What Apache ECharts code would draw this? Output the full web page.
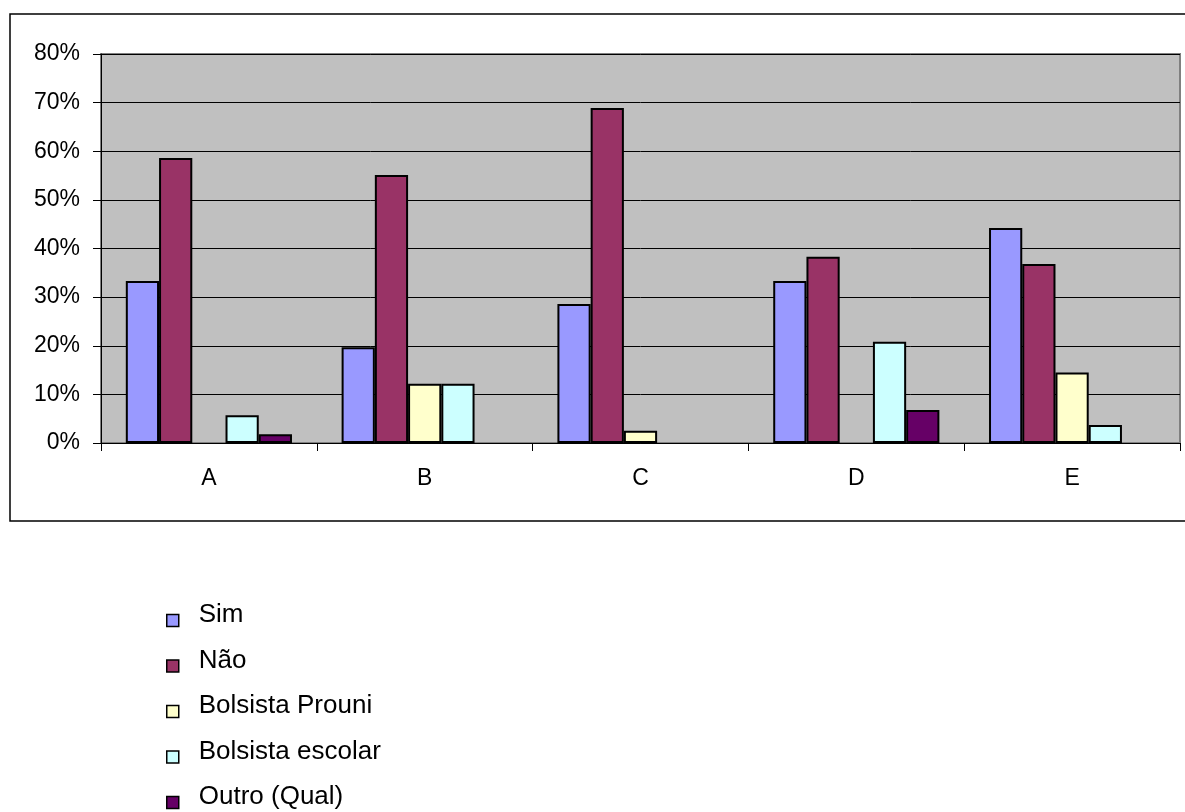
<!DOCTYPE html>
<html>
<head>
<meta charset="utf-8">
<script src="https://cdn.jsdelivr.net/npm/echarts@6/dist/echarts.min.js"></script>
<style>
  html, body { margin: 0; padding: 0; background: #fff; }
  #chart { width: 1185px; height: 812px; }
</style>
</head>
<body>
<div id="chart"></div>
<script>
// Categories and series values (percent)
const categories = ['A', 'B', 'C', 'D', 'E'];
const sim             = [33.3, 19.7, 28.6, 33.3, 44.2];
const nao             = [58.6, 55.1, 68.9, 38.3, 36.8];
const bolsistaProuni  = [0,    12.2, 2.5,  0,    14.5];
const bolsistaEscolar = [5.7,  12.2, 0,    20.8, 3.7];
const outro           = [1.8,  0,    0,    6.8,  0];
const yTicks = [0, 10, 20, 30, 40, 50, 60, 70, 80];

const seriesDefs = [
  { name: 'Sim', data: sim, color: '#9999FF' },
  { name: 'Não', data: nao, color: '#993366' },
  { name: 'Bolsista Prouni', data: bolsistaProuni, color: '#FFFFCC' },
  { name: 'Bolsista escolar', data: bolsistaEscolar, color: '#CCFFFF' },
  { name: 'Outro (Qual)', data: outro, color: '#660066' }
];

const font = "'Liberation Sans', Arial, sans-serif";
const chart = echarts.init(document.getElementById('chart'), null, { renderer: 'canvas' });

// zero values get no outline so nothing shows on the baseline
const toBarData = arr => arr.map(v => v === 0
  ? { value: v, itemStyle: { borderWidth: 0 } }
  : v);

// legend swatch: a square sitting in the lower part of a taller box,
// so the swatch lands a little below the middle of its label
const swatch = 'path://M0,0M0,11h12v12h-12z';

chart.setOption({
  animation: false,
  backgroundColor: '#ffffff',
  graphic: [{
    type: 'rect',
    shape: { x: 10, y: 14, width: 1200, height: 507 },
    style: { fill: 'none', stroke: '#000', lineWidth: 1.5 },
    z: 0
  }],
  grid: {
    left: 101, top: 54, right: 5, bottom: 369,
    show: true,
    backgroundColor: '#C0C0C0',
    borderColor: '#808080',
    borderWidth: 2
  },
  legend: {
    orient: 'vertical',
    left: 161,
    top: 597,
    height: 215,
    itemWidth: 12,
    itemHeight: 23,
    itemGap: 19.5,
    icon: swatch,
    textStyle: {
      fontFamily: font, fontSize: 26, color: '#000',
      lineHeight: 26, padding: [0, 0, 0, 15]
    },
    itemStyle: { borderColor: '#000', borderWidth: 1.5 }
  },
  xAxis: {
    type: 'category',
    data: categories,
    axisLine: { lineStyle: { color: '#000', width: 1 } },
    axisTick: { show: true, length: 8, lineStyle: { color: '#000' } },
    axisLabel: { fontFamily: font, fontSize: 23, color: '#000', margin: 24 },
    splitLine: { show: false }
  },
  yAxis: {
    type: 'value',
    min: yTicks[0],
    max: yTicks[yTicks.length - 1],
    interval: 10,
    axisLine: { show: true, lineStyle: { color: '#000', width: 1 } },
    axisTick: { show: true, length: 8, lineStyle: { color: '#000' } },
    axisLabel: { fontFamily: font, fontSize: 23, color: '#000', margin: 21, formatter: '{value}%' },
    splitLine: { show: true, lineStyle: { color: '#000', width: 1 } }
  },
  series: seriesDefs.map(s => ({
    name: s.name,
    type: 'bar',
    data: toBarData(s.data),
    barGap: '0%',
    barCategoryGap: '23%',
    itemStyle: { color: s.color, borderColor: '#000', borderWidth: 2 }
  }))
});
</script>
</body>
</html>
